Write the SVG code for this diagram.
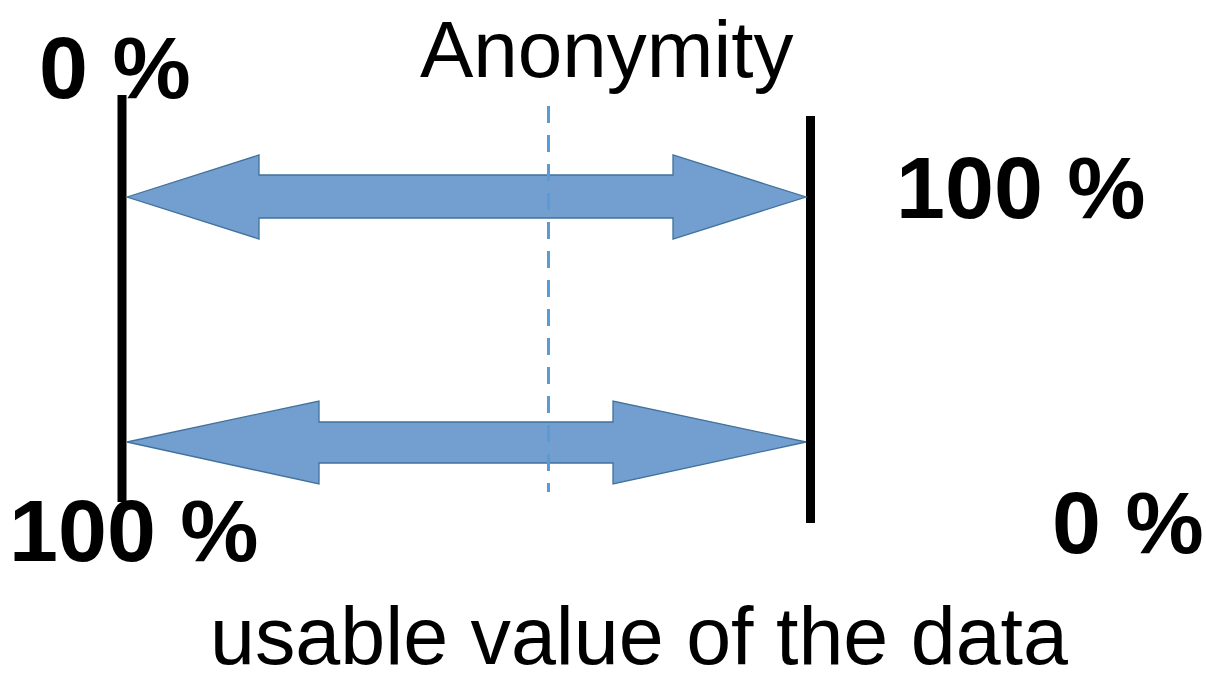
<svg xmlns="http://www.w3.org/2000/svg" width="1206" height="675" viewBox="0 0 1206 675">
  <style>
    .pct { font-family: "Liberation Sans", Arial, sans-serif; font-weight: bold; font-size: 88px; fill: #000; }
    .label { font-family: "Liberation Sans", Arial, sans-serif; font-size: 80px; fill: #000; }
    .bar { stroke: #000; stroke-width: 9; fill: none; }
    .arrow { fill: #729FCF; stroke: #41719C; stroke-width: 1.3; stroke-linejoin: miter; }
    .mid { stroke: #5B9BD5; stroke-width: 3; stroke-dasharray: 17 12; fill: none; }
  </style>
  <rect width="1206" height="675" fill="#ffffff"/>

  <!-- scale boundaries -->
  <g id="left-bar"><line class="bar" x1="122" y1="95" x2="122" y2="502"/></g>
  <g id="right-bar"><line class="bar" x1="810.5" y1="116" x2="810.5" y2="523"/></g>

  <!-- double-headed arrows -->
  <g id="connectors">
    <polygon id="arrow-anonymity" class="arrow" points="127,197 259,155 259,175 673,175 673,155 806,197 673,239 673,218 259,218 259,239"/>
    <polygon id="arrow-value" class="arrow" points="127,442 319,401 319,422 613,422 613,401 806,442 613,484 613,463 319,463 319,484"/>
    <line id="midline" class="mid" x1="548.5" y1="106" x2="548.5" y2="492"/>
  </g>

  <!-- labels -->
  <g id="title-anonymity"><text class="label" x="420" y="77">Anonymity</text></g>
  <g id="top-left-pct"><text class="pct" x="39" y="98">0 %</text></g>
  <g id="top-right-pct"><text class="pct" x="896" y="218">100 %</text></g>
  <g id="bottom-left-pct"><text class="pct" x="9" y="561">100 %</text></g>
  <g id="bottom-right-pct"><text class="pct" x="1052" y="553">0 %</text></g>
  <g id="title-value"><text class="label" x="210" y="664" style="font-size:80.8px">usable value of the data</text></g>
</svg>
